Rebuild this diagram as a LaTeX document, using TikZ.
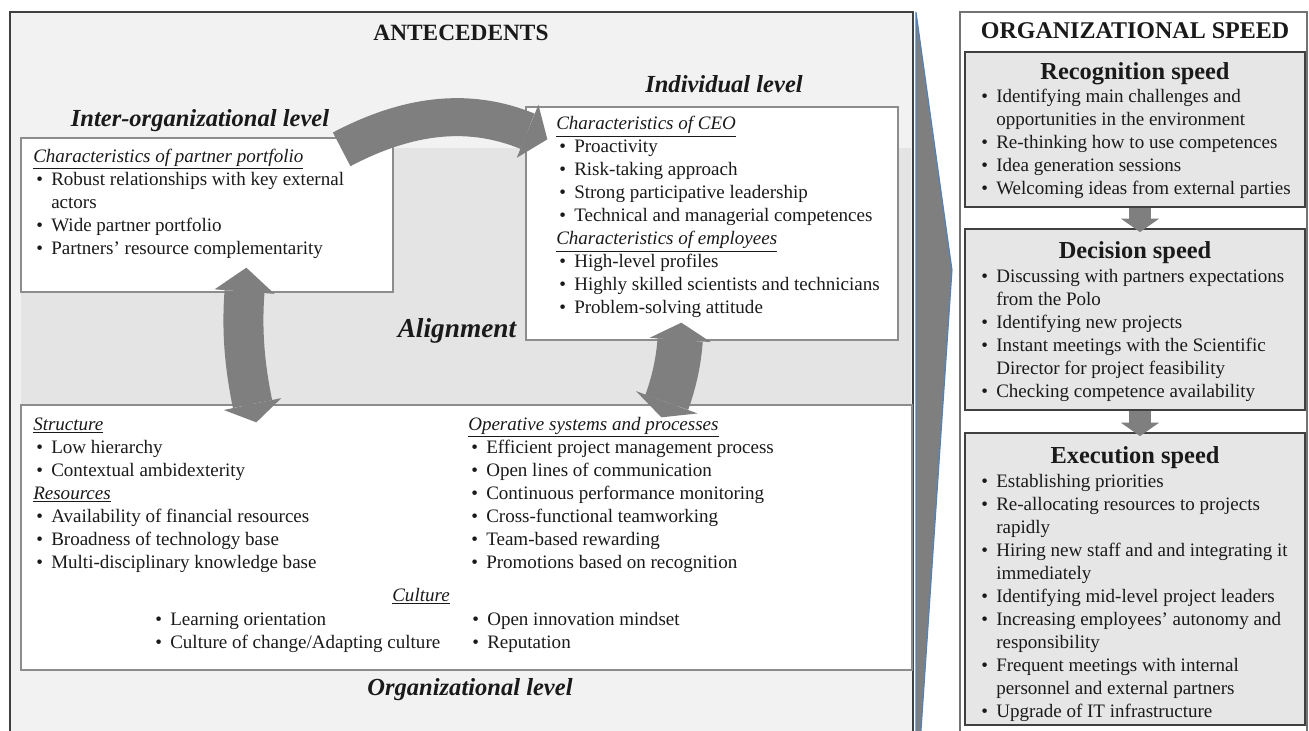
\documentclass[tikz,border=0pt]{standalone}
\usepackage{fontspec}
\setmainfont{Liberation Serif}
\usetikzlibrary{arrows.meta,calc,fit,positioning}

\definecolor{antfill}{HTML}{F2F2F2}
\definecolor{alignfill}{HTML}{E4E4E4}
\definecolor{speedfill}{HTML}{E6E6E6}
\definecolor{arrowgray}{HTML}{7F7F7F}
\definecolor{boxline}{HTML}{8C8C8C}
\definecolor{chevline}{HTML}{4F81BD}
\definecolor{inkcol}{HTML}{1A1A1A}

\newcommand\bodyfont{\fontsize{14.27pt}{17.25pt}\selectfont}
\newcommand\bul{\par\hangindent=13.5pt\hangafter=1\noindent\makebox[13.5pt][l]{\hspace{2.25pt}\textbullet}}
\newcommand\hd[1]{\par\noindent\textit{\underline{#1}}}
\newcommand\lst[2]{\begin{minipage}[t]{#1}\raggedright#2\end{minipage}}

\tikzset{
  panel/.style={draw=black!75, line width=1.1pt, inner sep=0pt},
  whitebox/.style={draw=boxline, fill=white, line width=1pt, inner sep=0pt},
  speedbox/.style={draw=black!75, fill=speedfill, line width=1.4pt, inner sep=0pt},
  txt/.style={font=\bodyfont, text=inkcol, inner sep=0pt, anchor=base west},
  levellabel/.style={font=\fontsize{18.4pt}{22pt}\selectfont\bfseries\itshape, text=inkcol, inner sep=0pt, anchor=base},
  headlabel/.style={font=\fontsize{#1}{22pt}\selectfont\bfseries, text=inkcol, inner sep=0pt, anchor=base},
  fatarrow/.style={draw=arrowgray, line width=#1},
}

\begin{document}
\begin{tikzpicture}[x=0.75pt, y=-0.75pt]
\clip (0,0) rectangle (1309,731);

% the two panels
\node[panel, fill=antfill, fit={(10,12) (913,800)}] (ant) {};
\node[panel, draw=black!55, fill=white, fit={(960,12) (1307,800)}] (speed) {};

% big arrow between the panels
\filldraw[fill=arrowgray, draw=chevline, line width=0.8pt] (916,12) -- (952,270) -- (916,805) -- cycle;

% alignment area and the three levels
\fill[alignfill] (21,148) rectangle (911,405);
\node[whitebox, fit={(21,138) (393,292)}] (inter) {};
\node[whitebox, fit={(526,107) (898,340)}] (indiv) {};
\node[whitebox, fit={(21,405) (912,670)}] (org) {};

% arrows between the levels
\draw[fatarrow=28.5pt, -{Triangle[width=43pt, length=16pt, line width=0pt]}]
  ($(inter.north east)+(-52,12)$) to[bend left=25] ($(indiv.north west)+(22,33)$);
\draw[fatarrow=30pt, {Triangle[width=45pt, length=18pt, line width=0pt]}-{Triangle[width=44pt, length=14pt, line width=0pt]}]
  ($(inter.south west)+(226,-25)$) to[bend right=8] ($(org.north west)+(236,18)$);
\draw[fatarrow=34pt, {Triangle[width=46pt, length=13pt, line width=0pt]}-{Triangle[width=49pt, length=12pt, line width=0pt]}]
  ($(indiv.south west)+(156,-18)$) to[bend left=8] ($(org.north west)+(641,13)$);

% speed stages
\node[speedbox, fit={(965,52) (1305,207)}] (recog) {};
\node[speedbox, fit={(965,229) (1305,410)}] (decis) {};
\node[speedbox, fit={(965,433) (1305,725)}] (exec) {};
\draw[fatarrow=16.5pt, -{Triangle[width=28.5pt, length=10pt, line width=0pt]}]
  ($(recog.south)+(5,0)$) -- ($(decis.north)+(5,4)$);
\draw[fatarrow=16.5pt, -{Triangle[width=28.5pt, length=10pt, line width=0pt]}]
  ($(decis.south)+(5,0)$) -- ($(exec.north)+(5,4)$);

% titles
\node[headlabel=17.5pt] (antT) at (461,41) {ANTECEDENTS};
\node[headlabel=18pt] (speedT) at (1135,39) {ORGANIZATIONAL SPEED};
\node[levellabel] (interT) at (200,127) {Inter-organizational level};
\node[levellabel] (indivT) at (724,93) {Individual level};
\node[levellabel, font=\fontsize{20.5pt}{24pt}\selectfont\bfseries\itshape] (alignT) at (457,337) {Alignment};
\node[levellabel] (orgT) at (470,695) {Organizational level};

% inter-organizational level
\node[txt] (interL) at (33,162) {\lst{266pt}{%
  \hd{Characteristics of partner portfolio}
  \bul Robust relationships with key external\newline actors
  \bul Wide partner portfolio
  \bul Partners’ resource complementarity}};

% individual level
\node[txt] (indivL) at (556,130) {\lst{255pt}{%
  \hd{Characteristics of CEO}
  \bul Proactivity
  \bul Risk-taking approach
  \bul Strong participative leadership
  \bul Technical and managerial competences
  \hd{Characteristics of employees}
  \bul High-level profiles
  \bul Highly skilled scientists and technicians
  \bul Problem-solving attitude}};

% organizational level
\node[txt] (orgL) at (33,430) {\lst{315pt}{%
  \hd{Structure}
  \bul Low hierarchy
  \bul Contextual ambidexterity
  \hd{Resources}
  \bul Availability of financial resources
  \bul Broadness of technology base
  \bul Multi-disciplinary knowledge base}};
\node[txt] (orgR) at (468,430) {\lst{322pt}{%
  \hd{Operative systems and processes}
  \bul Efficient project management process
  \bul Open lines of communication
  \bul Continuous performance monitoring
  \bul Cross-functional teamworking
  \bul Team-based rewarding
  \bul Promotions based on recognition}};
\node[txt, anchor=base east] (cultT) at (450,601) {\textit{\underline{Culture}}};
\node[txt] (cultL) at (152,625) {\lst{225pt}{%
  \bul Learning orientation
  \bul Culture of change/Adapting culture}};
\node[txt] (cultR) at (469,625) {\lst{225pt}{%
  \bul Open innovation mindset
  \bul Reputation}};

% organizational speed
\node[headlabel=18.3pt] (recogT) at (1135,80) {Recognition speed};
\node[txt] (recogL) at (978,103) {\lst{244pt}{%
  \bul Identifying main challenges and\newline opportunities in the environment
  \bul Re-thinking how to use competences
  \bul Idea generation sessions
  \bul Welcoming ideas from external parties}};
\node[headlabel=18.3pt] (decisT) at (1135,258) {Decision speed};
\node[txt] (decisL) at (978,282) {\lst{244pt}{%
  \bul Discussing with partners expectations\newline from the Polo
  \bul Identifying new projects
  \bul Instant meetings with the Scientific\newline Director for project feasibility
  \bul Checking competence availability}};
\node[headlabel=18.3pt] (execT) at (1135,463) {Execution speed};
\node[txt] (execL) at (978,487) {\lst{244pt}{%
  \bul Establishing priorities
  \bul Re-allocating resources to projects\newline rapidly
  \bul Hiring new staff and and integrating it\newline immediately
  \bul Identifying mid-level project leaders
  \bul Increasing employees’ autonomy and\newline responsibility
  \bul Frequent meetings with internal\newline personnel and external partners
  \bul Upgrade of IT infrastructure}};
\end{tikzpicture}
\end{document}
